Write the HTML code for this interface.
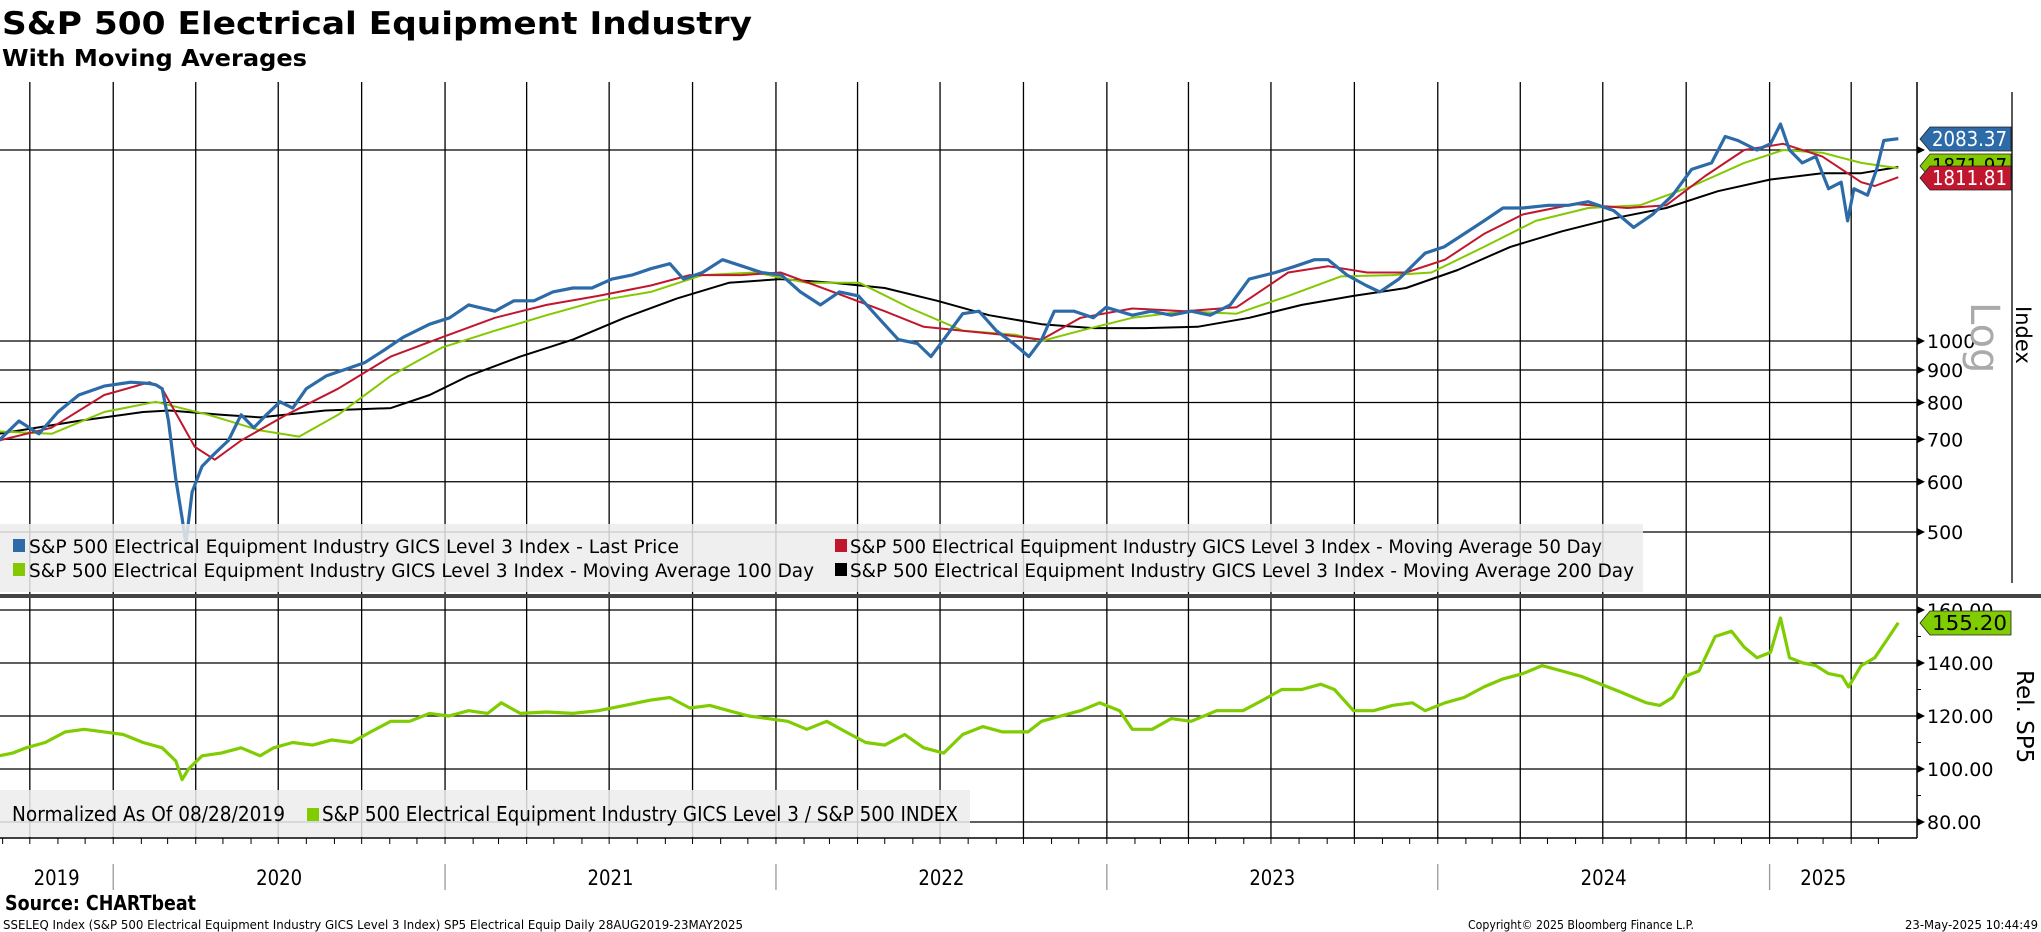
<!DOCTYPE html>
<html><head><meta charset="utf-8"><title>S&amp;P 500 Electrical Equipment Industry</title>
<style>
html,body{margin:0;padding:0;background:#fff;}
svg{display:block;}
text{font-family:"DejaVu Sans","Liberation Sans",sans-serif;}
</style></head>
<body>
<svg id="chart" width="2041" height="932" viewBox="0 0 2041 932" xmlns="http://www.w3.org/2000/svg">
<rect width="2041" height="932" fill="#fff"/>
<text x="2" y="34" font-size="31" font-weight="bold" textLength="750" lengthAdjust="spacingAndGlyphs">S&amp;P 500 Electrical Equipment Industry</text>
<text x="2" y="66" font-size="23" font-weight="bold" textLength="305" lengthAdjust="spacingAndGlyphs">With Moving Averages</text>
<g id="grid"></g>
<g id="series"></g>
<g id="overlay"></g>
</svg>
<script>
// ---- DATA (days since 2019-08-28) ----
const priceDays = [0,22,44,65,88,116,145,166,173,180,187,195,202,206,213,224,238,253,267,281,295,310,324,339,361,382,403,425,446,475,497,518,547,568,590,611,633,654,676,698,719,740,755,776,798,820,841,863,884,906,927,948,970,992,1013,1028,1042,1063,1081,1100,1119,1136,1150,1164,1186,1207,1221,1250,1271,1293,1315,1336,1358,1379,1408,1430,1451,1466,1487,1508,1523,1544,1573,1594,1616,1638,1659,1681,1709,1731,1753,1781,1803,1824,1846,1867,1889,1904,1918,1939,1954,1965,1975,1989,2004,2018,2032,2039,2046,2061,2071,2079,2095];
const priceValues = [697,748,714,773,822,849,861,857,853,841,748,606,526,479,578,635,665,697,765,730,765,802,784,841,881,902,924,968,1014,1063,1088,1140,1114,1157,1157,1195,1212,1212,1252,1270,1300,1324,1252,1282,1343,1312,1282,1270,1195,1140,1195,1178,1088,1005,991,945,1005,1104,1114,1038,991,945,1005,1114,1114,1088,1130,1098,1114,1098,1114,1098,1140,1252,1282,1312,1343,1343,1270,1223,1195,1252,1375,1407,1475,1546,1620,1620,1636,1636,1658,1605,1510,1583,1697,1864,1908,2100,2070,2000,2045,2197,2000,1908,1954,1738,1779,1546,1738,1697,1864,2070,2083.37];
const ma50Days = [0,58,116,166,180,216,238,267,317,374,432,489,547,604,661,719,762,819,862,920,977,1020,1063,1107,1150,1193,1250,1308,1365,1422,1466,1509,1552,1595,1638,1681,1738,1796,1839,1882,1925,1968,2011,2054,2069,2095];
const ma50Values = [697,730,822,861,841,681,650,697,765,841,945,1014,1088,1140,1178,1223,1270,1270,1282,1195,1114,1053,1038,1023,1005,1088,1125,1114,1130,1282,1312,1282,1282,1343,1475,1583,1644,1620,1636,1820,2000,2045,1954,1779,1755,1811.81];
const ma100Days = [0,58,116,173,231,288,331,374,432,489,547,604,661,719,776,834,891,949,1006,1063,1121,1150,1193,1250,1308,1365,1422,1480,1537,1580,1638,1695,1753,1810,1868,1925,1968,2011,2054,2095];
const ma100Values = [720,714,773,802,765,723,707,765,881,977,1038,1098,1157,1195,1270,1282,1235,1235,1125,1038,1023,1000,1038,1088,1114,1104,1178,1264,1270,1282,1407,1546,1620,1636,1755,1908,2000,1980,1908,1871.97];
const ma200Days = [0,87,159,188,245,288,360,432,475,518,575,633,690,748,805,862,920,977,1035,1092,1150,1207,1264,1322,1379,1437,1494,1552,1609,1667,1724,1781,1839,1896,1954,2011,2054,2095];
const ma200Values = [714,748,773,777,765,758,777,784,822,881,945,1005,1088,1167,1235,1252,1235,1212,1157,1098,1063,1048,1048,1053,1088,1140,1178,1212,1294,1407,1489,1561,1620,1722,1797,1838,1838,1880];
const relDays = [0,15,30,51,73,94,116,137,159,180,195,202,209,224,245,267,288,303,324,346,367,389,410,432,453,475,496,518,539,554,575,604,633,661,690,719,740,762,784,805,827,848,870,891,913,934,956,977,999,1020,1042,1063,1085,1107,1135,1150,1171,1193,1214,1236,1250,1272,1293,1315,1343,1372,1394,1415,1437,1458,1473,1494,1516,1537,1559,1573,1595,1616,1638,1659,1681,1702,1724,1745,1767,1789,1803,1817,1832,1846,1860,1875,1893,1911,1925,1939,1954,1965,1975,1990,2004,2018,2033,2040,2054,2069,2083,2095];
const relValues = [105,106,108,110,114,115,114,113,110,108,103,96,100,105,106,108,105,108,110,109,111,110,114,118,118,121,120,122,121,125,121,121.5,121,122,124,126,127,123,124,122,120,119,118,115,118,114,110,109,113,108,106,113,116,114,114,118,120,122,125,122,115,115,119,118,122,122,126,130,130,132,130,122,122,124,125,122,125,127,131,134,136,139,137,135,132,129,127,125,124,127,135,137,150,152,146,142,144,157,142,140,139,136,135,131,139,142,149,155.2];
const priceTicks = [2000,1000,900,800,700,600,500];
const priceTickLabels = ["","1000","900","800","700","600","500"];
const relTicks = [160,140,120,100,80];
const relTickLabels = ["160.00","140.00","120.00","100.00","80.00"];
const relMinorTicks = [150,130,110,90];
const yearLabels = ["2019","2020","2021","2022","2023","2024","2025"];
const yearStartDays = [-240,126,492,857,1222,1587,1953];
const lastLabels = ["2083.37","1871.97","1811.81"];
const relLastLabel = "155.20";

// ---- SCALES ----
const PLOT_R = 1917;
const xScale = d => -1 + d * 0.9066;
const yPrice = v => 341 - 275.6 * Math.log(v / 1000);
const yRel = v => 769 - (v - 100) * 2.65;

const NS = "http://www.w3.org/2000/svg";
function mk(tag, attrs, parent, txt) {
  const e = document.createElementNS(NS, tag);
  for (const k in attrs) e.setAttribute(k, attrs[k]);
  if (txt !== undefined) e.textContent = txt;
  parent.appendChild(e);
  return e;
}
const grid = document.getElementById('grid');
const series = document.getElementById('series');
const overlay = document.getElementById('overlay');

const monthDays = [];
{
  let d = new Date(Date.UTC(2019, 8, 1)), s = Date.UTC(2019, 7, 28);
  while (d.getTime() < Date.UTC(2025, 5, 1)) {
    monthDays.push({ day: Math.round((d.getTime() - s) / 86400000), m: d.getUTCMonth() });
    d = new Date(Date.UTC(d.getUTCFullYear(), d.getUTCMonth() + 1, 1));
  }
}
monthDays.forEach(md => {
  const x = xScale(md.day);
  if (x > PLOT_R) return;
  if (md.m % 3 === 0) {
    const l = mk('line', { x1: x, x2: x, y1: 82, y2: 838, stroke: '#000', 'stroke-width': 1.3 }, grid);
    
    
  }
  const t = mk('line', { x1: x, x2: x, y1: 838, y2: 844, stroke: '#000', 'stroke-width': 1 }, grid);
  
  
});
priceTicks.forEach((v, i) => {
  const y = yPrice(v);
  const l = mk('line', { x1: 0, x2: PLOT_R, y1: y, y2: y, stroke: '#000', 'stroke-width': 1.3 }, grid);
  
  
  mk('path', { d: `M${PLOT_R} ${y - 4}L${PLOT_R + 8} ${y}L${PLOT_R} ${y + 4}Z`, fill: '#000' }, grid);
  if (priceTickLabels[i]) {
    const t = mk('text', { x: 1927, y: y + 7, 'font-size': 19 }, overlay, priceTickLabels[i]);
    
    
  }
});
relTicks.forEach((v, i) => {
  const y = yRel(v);
  const l = mk('line', { x1: 0, x2: PLOT_R, y1: y, y2: y, stroke: '#000', 'stroke-width': 1.3 }, grid);
  
  
  mk('path', { d: `M${PLOT_R} ${y - 4}L${PLOT_R + 8} ${y}L${PLOT_R} ${y + 4}Z`, fill: '#000' }, grid);
  const t = mk('text', { x: 1927, y: y + 7, 'font-size': 19 }, overlay, relTickLabels[i]);
  
  
});
relMinorTicks.forEach(v => {
  const y = yRel(v);
  mk('line', { x1: PLOT_R, x2: PLOT_R + 4, y1: y, y2: y, stroke: '#000', 'stroke-width': 1 }, grid);
});
mk('line', { x1: PLOT_R, x2: PLOT_R, y1: 82, y2: 838, stroke: '#000', 'stroke-width': 1.5 }, grid);
mk('line', { x1: 0, x2: PLOT_R, y1: 838, y2: 838, stroke: '#000', 'stroke-width': 1.5 }, grid);
mk('line', { x1: 2012, x2: 2012, y1: 92, y2: 583, stroke: '#000', 'stroke-width': 1.3 }, grid);

function line(days, vals, yf, color, w, name) {
  const n = Math.min(days.length, vals.length);
  let d = '';
  for (let i = 0; i < n; i++) d += (i ? 'L' : 'M') + xScale(days[i]).toFixed(1) + ' ' + yf(vals[i]).toFixed(1);
  const p = mk('path', { d: d, fill: 'none', stroke: color, 'stroke-width': w, 'stroke-linejoin': 'round' }, series);
  
  
}
line(ma200Days, ma200Values, yPrice, '#000', 2, 'ma200-line');
line(ma100Days, ma100Values, yPrice, '#84c800', 2, 'ma100-line');
line(ma50Days, ma50Values, yPrice, '#c0172f', 2, 'ma50-line');
line(priceDays, priceValues, yPrice, '#2c6aa8', 3.2, 'price-line');
line(relDays, relValues, yRel, '#7fcc00', 3.2, 'relative-line');

yearLabels.forEach((lab, i) => {
  const s = Math.max(0, xScale(yearStartDays[i]));
  const e = Math.min(PLOT_R - 40, i + 1 < yearStartDays.length ? xScale(yearStartDays[i + 1]) : PLOT_R);
  const t = mk('text', { x: (s + e) / 2, y: 885, 'font-size': 21, 'text-anchor': 'middle', textLength: 46, lengthAdjust: 'spacingAndGlyphs' }, overlay, lab);
  
  
  if (i > 0) mk('line', { x1: xScale(yearStartDays[i]), x2: xScale(yearStartDays[i]), y1: 864, y2: 890, stroke: '#999', 'stroke-width': 1.3 }, overlay);
});

function tag(y, color, textColor, label, name, ww) {
  const g = mk('g', {}, overlay);
  
  
  mk('path', { d: `M1920 ${y}L1930 ${y - 12}L${1920 + ww} ${y - 12}L${1920 + ww} ${y + 12}L1930 ${y + 12}Z`, fill: color, stroke: '#222', 'stroke-width': 0.8 }, g);
  mk('text', { x: 1932, y: y + 7, 'font-size': 20, fill: textColor, textLength: ww - 16, lengthAdjust: 'spacingAndGlyphs' }, g, label);
}
tag(166, '#84c800', '#000', lastLabels[1], 'ma100-last-tag', 91);
tag(139, '#2c6aa8', '#fff', lastLabels[0], 'price-last-tag', 91);
tag(178, '#c0172f', '#fff', lastLabels[2], 'ma50-last-tag', 91);
tag(623, '#7fcc00', '#000', relLastLabel, 'relative-last-tag', 91);
</script>
<script>
(function(){
const NS="http://www.w3.org/2000/svg";
const ov=document.getElementById('overlay');
function t(x,y,size,txt,name,extra){
  const e=document.createElementNS(NS,'text');
  e.setAttribute('x',x);e.setAttribute('y',y);e.setAttribute('font-size',size);
  
  
  for(const k in (extra||{}))e.setAttribute(k,extra[k]);
  e.textContent=txt;ov.appendChild(e);return e;
}
function r(x,y,w,h,fill,name,op){
  const e=document.createElementNS(NS,'rect');
  e.setAttribute('x',x);e.setAttribute('y',y);e.setAttribute('width',w);e.setAttribute('height',h);e.setAttribute('fill',fill);
  if(op)e.setAttribute('fill-opacity',op);
  
  
  ov.insertBefore(e,ov.firstChild);return e;
}
r(0,524,1643,68,'#ececec','top-legend-box','0.85');
r(0,790,970,47,'#ececec','bottom-legend-box','0.85');
const sq=(x,y,c,n)=>{const e=document.createElementNS(NS,'rect');e.setAttribute('x',x);e.setAttribute('y',y);e.setAttribute('width',12);e.setAttribute('height',13);e.setAttribute('fill',c);ov.appendChild(e);};
sq(13,539,'#2c6aa8','legend-swatch-price');
t(29,553,19,'S&P 500 Electrical Equipment Industry GICS Level 3 Index - Last Price','legend-entry-price',{textLength:650,lengthAdjust:'spacingAndGlyphs'});
sq(835,539,'#c0172f','legend-swatch-ma50');
t(850,553,19,'S&P 500 Electrical Equipment Industry GICS Level 3 Index - Moving Average 50 Day','legend-entry-ma50',{textLength:752,lengthAdjust:'spacingAndGlyphs'});
sq(13,563,'#84c800','legend-swatch-ma100');
t(29,577,19,'S&P 500 Electrical Equipment Industry GICS Level 3 Index - Moving Average 100 Day','legend-entry-ma100',{textLength:785,lengthAdjust:'spacingAndGlyphs'});
sq(835,563,'#000','legend-swatch-ma200');
t(850,577,19,'S&P 500 Electrical Equipment Industry GICS Level 3 Index - Moving Average 200 Day','legend-entry-ma200',{textLength:784,lengthAdjust:'spacingAndGlyphs'});
t(12,821,20,'Normalized As Of 08/28/2019','legend-normalized-note',{textLength:273,lengthAdjust:'spacingAndGlyphs'});
sq(307,808,'#7fcc00','legend-swatch-relative');
t(322,821,20,'S&P 500 Electrical Equipment Industry GICS Level 3 / S&P 500 INDEX','legend-entry-relative',{textLength:636,lengthAdjust:'spacingAndGlyphs'});
const sep=document.createElementNS(NS,'rect');sep.setAttribute('x',0);sep.setAttribute('y',594);sep.setAttribute('width',2041);sep.setAttribute('height',4);sep.setAttribute('fill','#444');


ov.appendChild(sep);
t(0,0,21,'Index','y-axis-title-index',{transform:'translate(2016,306) rotate(90)'});
t(0,0,40,'Log','log-scale-label',{transform:'translate(1971,302) rotate(90)',fill:'#aaa'});
t(0,0,23,'Rel. SP5','y-axis-title-rel',{transform:'translate(2017,670) rotate(90)'});
t(5,910,20,'Source: CHARTbeat','source-label',{'font-weight':'bold',textLength:191,lengthAdjust:'spacingAndGlyphs'});
t(3,929,12,'SSELEQ Index (S&P 500 Electrical Equipment Industry GICS Level 3 Index) SP5 Electrical Equip  Daily 28AUG2019-23MAY2025','footer-description',{textLength:740,lengthAdjust:'spacingAndGlyphs'});
t(1468,929,12,'Copyright© 2025 Bloomberg Finance L.P.','footer-copyright',{textLength:226,lengthAdjust:'spacingAndGlyphs'});
t(1905,929,12,'23-May-2025 10:44:49','footer-timestamp',{textLength:133,lengthAdjust:'spacingAndGlyphs'});
})();
</script>
</body></html>
